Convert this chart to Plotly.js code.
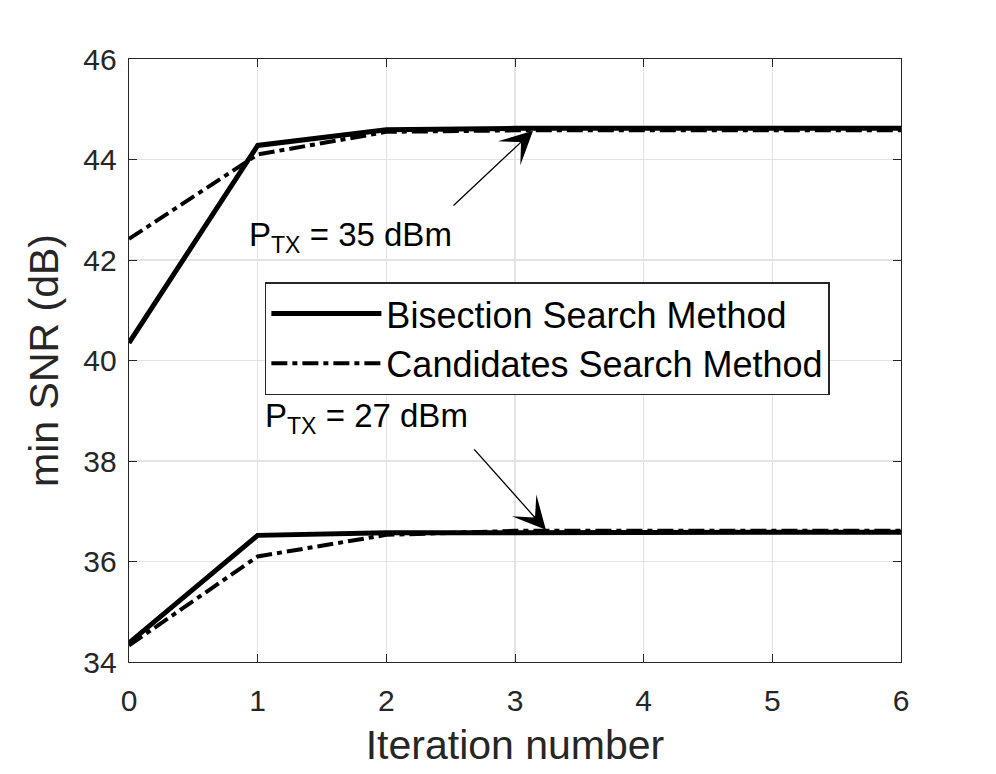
<!DOCTYPE html>
<html>
<head>
<meta charset="utf-8">
<script src="https://cdn.plot.ly/plotly-3.0.1.min.js"></script>
<style>
  html, body { margin: 0; padding: 0; background: #fff; }
  #chart { width: 996px; height: 774px; }
</style>
</head>
<body>
<div id="chart"></div>
<script>
'use strict';

// iterations on the x axis
const iterations = [0, 1, 2, 3, 4, 5, 6];

// min SNR (dB), P_TX = 35 dBm
const bisection35 = [40.35, 44.28, 44.59, 44.62, 44.62, 44.62, 44.62];
const candidates35 = [42.42, 44.10, 44.55, 44.58, 44.58, 44.58, 44.58];

// min SNR (dB), P_TX = 27 dBm
const bisection27 = [34.38, 36.52, 36.57, 36.58, 36.58, 36.58, 36.58];
const candidates27 = [34.33, 36.10, 36.53, 36.61, 36.61, 36.61, 36.61];

const xTicks = [0, 1, 2, 3, 4, 5, 6];
const yTicks = [34, 36, 38, 40, 42, 44, 46];

const FONT = 'Liberation Sans, Arial, Helvetica, sans-serif';
const INK = '#000000';
const AXIS = '#262626';
const GRID = '#e3e3e3';
const DASHDOT = '16px,5px,5px,5px';

const line = (y, name, dash, width, showlegend) => ({
  type: 'scatter', mode: 'lines', x: iterations, y, name, showlegend,
  legendgroup: name,
  line: { color: INK, width, dash },
  hoverinfo: 'skip',
});

const traces = [
  line(bisection35, 'Bisection Search Method', 'solid', 5, true),
  line(candidates35, 'Candidates Search Method', DASHDOT, 4, true),
  line(bisection27, 'Bisection Search Method', 'solid', 5, false),
  line(candidates27, 'Candidates Search Method', DASHDOT, 4, false),
];

const arrow = (x, y, ax, ay) => ({
  x, y, ax, ay, xref: 'x', yref: 'y', axref: 'pixel', ayref: 'pixel',
  text: '', showarrow: true, arrowhead: 3, arrowsize: 4.2, arrowwidth: 1.3,
  arrowcolor: INK, standoff: 0,
});

const label = (x, y, text) => ({
  x, y, xref: 'x', yref: 'y', text, showarrow: false,
  font: { family: FONT, size: 33, color: INK },
});

const layout = {
  width: 996, height: 774,
  margin: { l: 129, r: 95, t: 59, b: 112 },
  paper_bgcolor: '#ffffff', plot_bgcolor: '#ffffff',
  font: { family: FONT, color: AXIS },
  showlegend: true,
  legend: {
    x: 0.176, y: 0.63, xanchor: 'left', yanchor: 'top',
    bgcolor: '#ffffff', bordercolor: AXIS, borderwidth: 1.5,
    font: { family: FONT, size: 36, color: INK },
    itemwidth: 110, tracegroupgap: 0,
  },
  xaxis: {
    range: [0, 6], tickvals: xTicks, ticks: 'inside', ticklen: 8, tickcolor: AXIS,
    showline: true, mirror: 'ticks', linecolor: AXIS, linewidth: 1.3,
    showgrid: true, gridcolor: GRID, gridwidth: 1.3, zeroline: false,
    tickfont: { family: FONT, size: 30, color: AXIS }, ticklabelstandoff: 12,
    title: { text: 'Iteration number', font: { family: FONT, size: 41, color: AXIS }, standoff: 14 },
  },
  yaxis: {
    range: [34, 46], tickvals: yTicks, ticks: 'inside', ticklen: 8, tickcolor: AXIS,
    showline: true, mirror: 'ticks', linecolor: AXIS, linewidth: 1.3,
    showgrid: true, gridcolor: GRID, gridwidth: 1.3, zeroline: false,
    tickfont: { family: FONT, size: 30, color: AXIS }, ticklabelstandoff: 5,
    title: { text: 'min SNR (dB)', font: { family: FONT, size: 41, color: AXIS }, standoff: 12 },
  },
  annotations: [
    label(1.718, 42.45, 'P<sub>TX</sub> = 35 dBm'),
    label(1.842, 38.86, 'P<sub>TX</sub> = 27 dBm'),
    arrow(3.14, 44.57, -81, 76),
    arrow(3.24, 36.63, -73, -82),
  ],
};

Plotly.newPlot('chart', traces, layout, { staticPlot: true, displayModeBar: false });
</script>
</body>
</html>
